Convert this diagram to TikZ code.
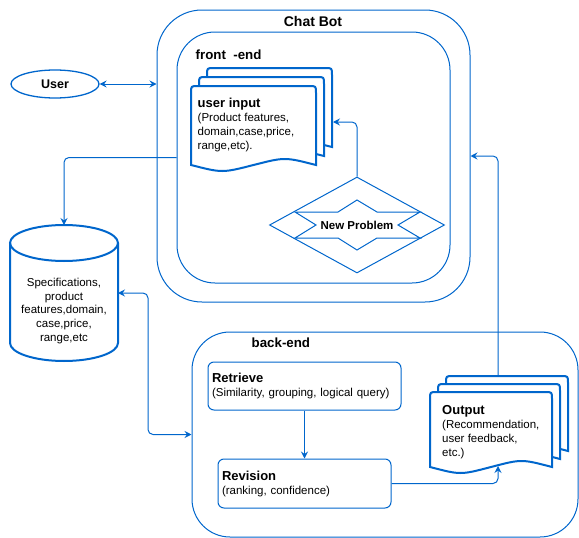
\documentclass[tikz,border=0pt]{standalone}
\usepackage{fontspec}
\setmainfont{Liberation Sans}
\usepackage{tikz}
\usetikzlibrary{arrows.meta}
\usetikzlibrary{shapes.geometric}
\usetikzlibrary{positioning}
\definecolor{dblue}{RGB}{0,102,204}

\newcommand{\titlefnt}{\fontsize{13}{14}\selectfont\bfseries}
% page of a multi-document: x, y, width, height to bottom middle
\newcommand{\docpage}[4]{%
  \filldraw[docline] (#1,{#2+#4}) -- (#1,{#2+7}) .. controls (#1,#2) .. ({#1+7},#2)
    -- ({#1+#3-7},#2) .. controls ({#1+#3},#2) .. ({#1+#3},{#2+7})
    -- ({#1+#3},{#2+#4}) .. controls ({#1+0.75*#3},{#2+#4-8}) .. ({#1+0.5*#3},{#2+#4})
    .. controls ({#1+0.25*#3},{#2+#4+8}) .. (#1,{#2+#4}) -- cycle;}

\begin{document}
\begin{tikzpicture}[x=1pt, y=-1pt,
    container/.style={draw=dblue, line width=1pt, inner sep=0},
    docline/.style={draw=dblue, fill=white, line width=2pt},
    doctext/.style={align=left, inner sep=0, font=\fontsize{11.5}{14}\selectfont},
    procbox/.style={draw=dblue, line width=1pt, rounded corners=6pt, align=left,
      inner xsep=4pt, inner ysep=0, font=\fontsize{11.5}{14}\selectfont},
    label/.style={inner sep=0, font=\fontsize{13.3}{15}\selectfont\bfseries},
    arr/.style={draw=dblue, line width=1pt, rounded corners=5pt,
      -{Stealth[length=7pt, width=7pt, inset=2.5pt]}},
    darr/.style={draw=dblue, line width=1pt, rounded corners=5pt,
      {Stealth[length=7pt, width=7pt, inset=2.5pt]}-{Stealth[length=7pt, width=7pt, inset=2.5pt]}}]
    \useasboundingbox (0,0) rectangle (579,538);

    % containers
    \node[container, rounded corners=45pt, minimum width=313pt, minimum height=292pt] (cb) at (313.5,156) {};
    \node[label, font=\fontsize{14}{16}\selectfont\bfseries] (cbLabel) at (313,21) {Chat Bot};
    \node[container, rounded corners=38pt, minimum width=273pt, minimum height=251pt] (fe) at (313.5,157.5) {};
    \node[label, anchor=west] (feLabel) at (195.5,55) {front\ \ -end};
    \node[container, rounded corners=38pt, minimum width=386pt, minimum height=205pt] (be) at (385,434.5) {};
    \node[label, anchor=west] (beLabel) at (251.5,343) {back-end};

    % user
    \node[draw=dblue, ellipse, line width=1.3pt, minimum width=88pt, minimum height=28pt, inner sep=0,
      font=\fontsize{12.5}{14}\selectfont\bfseries] (user) at (55,84) {User};

    % user input pages
    \docpage{207}{68}{125}{79}
    \docpage{199}{77}{125}{79}
    \docpage{191}{86}{125}{79}
    \node[doctext, anchor=north west] (uiText) at (197.5,98)
      {{\titlefnt user input}\\(Product features,\\domain,case,price,\\range,etc).};
    \coordinate (uiR) at (333,122);

    % new problem
    \node[draw=dblue, diamond, line width=1pt, minimum width=175pt, minimum height=96pt, inner sep=0,
      font=\fontsize{11.5}{14}\selectfont\bfseries] (np) at (357,225) {New Problem};
    \draw[dblue, line width=1pt] (295,212) -- (338,212) -- (357,200) -- (377,212) -- (420,212)
      -- (398,225) -- (420,238) -- (377,238) -- (357,250) -- (338,238) -- (295,238)
      -- (316,225) -- cycle;

    % database
    \draw[dblue, fill=white, line width=2pt] (10,243) -- (10,343)
      .. controls (10,352.9) and (34.2,361) .. (64,361)
      .. controls (93.8,361) and (118,352.9) .. (118,343) -- (118,243);
    \draw[dblue, line width=2pt] (64,243) ellipse [x radius=54, y radius=18];
    \node[doctext, align=center, font=\fontsize{11.5}{13.7}\selectfont] (db) at (64,311)
      {Specifications,\\product\\features,domain,\\case,price,\\range,etc};
    \coordinate (dbTop) at (64,225);
    \coordinate (dbR) at (118,293);
    \coordinate (dbBend) at (148,400);

    % back-end steps
    \node[procbox, text width=185pt, minimum height=48pt] (ret) at (304.5,386)
      {{\titlefnt Retrieve}\\(Similarity, grouping, logical query)};
    \node[procbox, text width=165pt, minimum height=49pt] (rev) at (304.5,483.5)
      {{\titlefnt Revision}\\(ranking, confidence)};

    % output pages
    \docpage{446}{376}{122}{75}
    \docpage{438}{384}{122}{75}
    \docpage{430}{392}{122}{75}
    \node[doctext, anchor=north west] (outText) at (442,405)
      {{\titlefnt Output}\\(Recommendation,\\user feedback,\\etc.)};
    \coordinate (outTop) at (498,376);
    \coordinate (outBot) at (498,466);

    % connectors
    \draw[darr] (user.east) -- (user.east -| cb.west);
    \draw[arr] (np.north) |- (uiR);
    \draw[arr] (fe.west) -| (dbTop);
    \draw[darr] (dbR) -| (dbBend) |- (be.west);
    \draw[arr] (ret) -- (rev);
    \draw[arr] (rev.east) -| (outBot);
    \draw[arr] (outTop) |- (cb.east);
  \end{tikzpicture}
\end{document}
